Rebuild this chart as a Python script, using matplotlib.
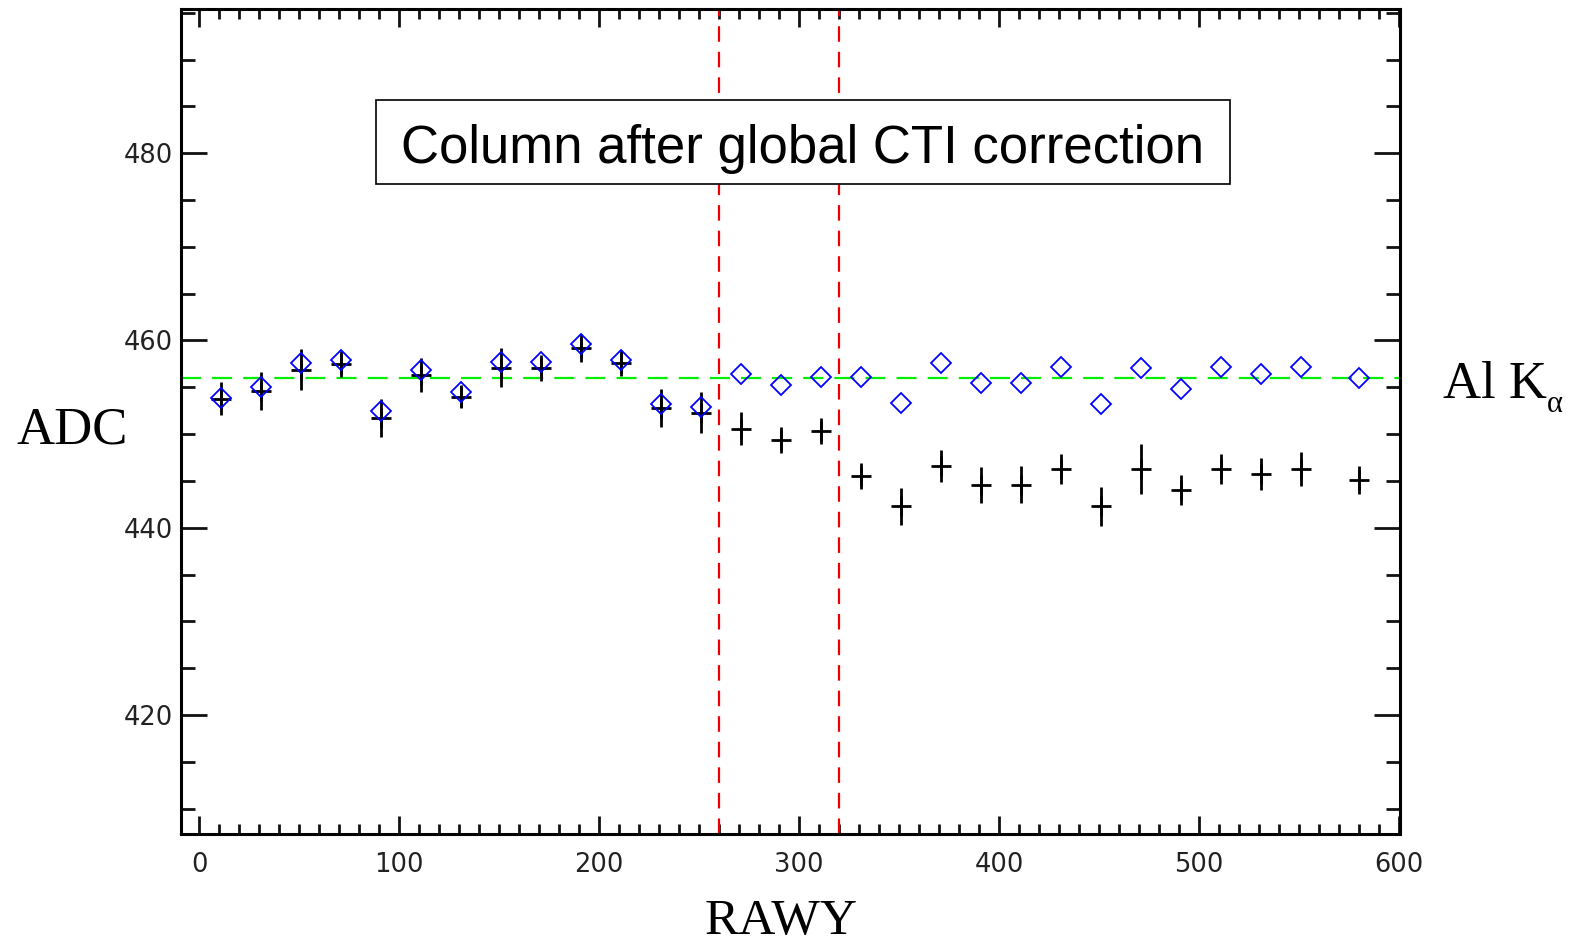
import matplotlib
matplotlib.use("Agg")
import matplotlib.pyplot as plt
from matplotlib.patches import Rectangle
from matplotlib.ticker import MultipleLocator

# RAWY bin centres
rawy = [11, 31, 51, 71, 91, 111, 131, 151, 171, 191, 211, 231, 251,
        271, 291, 311, 331, 351, 371, 391, 411, 431, 451, 471, 491,
        511, 531, 551, 580]

# before correction (black crosses with error bars)
adc_raw = [453.8, 454.6, 456.9, 457.5, 451.7, 456.3, 454.0, 457.1, 457.1,
           459.2, 457.6, 452.8, 452.3, 450.6, 449.4, 450.3, 445.5, 442.3,
           446.6, 444.6, 444.6, 446.3, 442.3, 446.3, 444.0, 446.3, 445.7,
           446.3, 445.1]
adc_err = [1.8, 2.0, 2.2, 1.4, 2.0, 1.8, 1.2, 2.1, 1.4, 1.5, 1.4, 2.0, 2.2,
           1.8, 1.4, 1.4, 1.4, 2.0, 1.7, 1.9, 2.0, 1.6, 2.1, 2.7, 1.6, 1.6,
           1.7, 1.8, 1.5]

# after global CTI correction (blue diamonds)
adc_corr = [453.9, 455.0, 457.6, 457.9, 452.5, 456.8, 454.5, 457.7, 457.7,
            459.6, 457.9, 453.2, 452.9, 456.4, 455.3, 456.1, 456.1, 453.3,
            457.6, 455.5, 455.5, 457.2, 453.2, 457.1, 454.8, 457.2, 456.4,
            457.2, 456.0]

al_ka = 456.0
region_edges = [260, 320]

W, H = 1574, 947
fig = plt.figure(figsize=(W / 100, H / 100), dpi=100)
ax = fig.add_axes([181 / W, 1 - 834 / H, (1400 - 181) / W, (834 - 9) / H])

ax.errorbar(rawy, adc_raw, yerr=adc_err, fmt="+", color="black",
            ms=15, mew=2.0, elinewidth=2.0, capsize=0, zorder=3)
ax.plot(rawy, adc_corr, "D", ms=10.5, mfc="none", mec="#0000ff", mew=1.3, zorder=4)

ax.axhline(al_ka, color="#00ee00", lw=1.6, ls=(0, (9, 5)), zorder=2)
for xv in region_edges:
    ax.axvline(xv, color="#ee0000", lw=1.6, ls=(0, (7, 4.5)), zorder=2)

ax.set_xlim(-9.2, 600.5)
ax.set_ylim(407.3, 495.4)
ax.xaxis.set_major_locator(MultipleLocator(100))
ax.xaxis.set_minor_locator(MultipleLocator(10))
ax.yaxis.set_major_locator(MultipleLocator(20))
ax.yaxis.set_minor_locator(MultipleLocator(5))

for s in ax.spines.values():
    s.set_linewidth(2.2)
ax.tick_params(axis="both", which="both", direction="in", top=True, right=True,
               width=2.0, colors="#111111", labelcolor="#222222", labelsize=18.5)
ax.tick_params(axis="x", which="major", length=13, pad=13)
ax.tick_params(axis="x", which="minor", length=7.5)
ax.tick_params(axis="y", which="major", length=19, pad=6)
ax.tick_params(axis="y", which="minor", length=10)

# title box
ax.add_patch(Rectangle((0.160, 0.788), 0.7005, 0.1017, transform=ax.transAxes,
                       facecolor="white", edgecolor="black", lw=1.2, zorder=5))
ax.text(0.510, 0.8133, "Column after global CTI correction", transform=ax.transAxes,
        ha="center", va="baseline", fontsize=38, family="Liberation Sans", zorder=6)

serif = "Liberation Serif"
fig.text(72 / W, 1 - 443 / H, "ADC", ha="center", va="baseline", fontsize=38, family=serif)
fig.text(781 / W, 1 - 934 / H, "RAWY", ha="center", va="baseline", fontsize=37, family=serif)
fig.text(1443 / W, 1 - 398 / H, "Al K", ha="left", va="baseline", fontsize=38, family=serif)
fig.text(1547 / W, 1 - 412 / H, "\u03b1", ha="left", va="baseline", fontsize=22, family=serif)

fig.savefig("out.png", dpi=100)
